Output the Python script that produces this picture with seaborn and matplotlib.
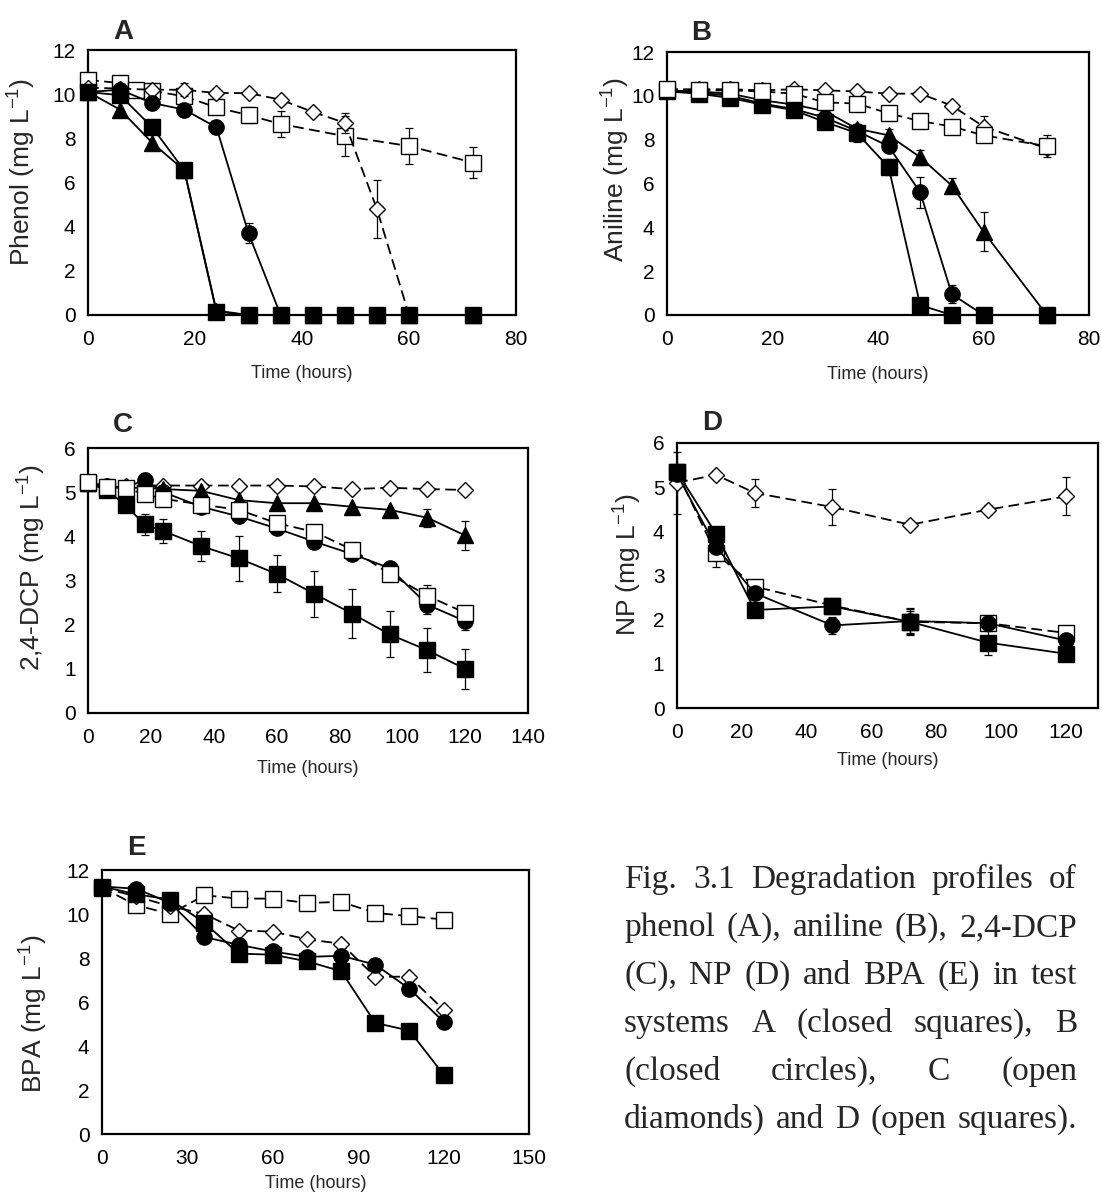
import numpy as np
import matplotlib
matplotlib.use("Agg")
import matplotlib.pyplot as plt
import seaborn as sns

W, H = 1102, 1196

# ---------------- data ----------------
# A: phenol
a_time = [0, 6, 12, 18, 24, 30, 36, 42, 48, 54, 60, 72]
a_closed_sq = [10.1, 9.95, 8.5, 6.55, 0.15, 0, 0, 0, 0, 0, 0, 0]
a_circle = [10.1, 10.2, 9.6, 9.3, 8.5, 3.7, 0, 0, 0, 0, 0, 0]
a_circle_err = [0, 0, 0, 0, 0.2, 0.45, 0, 0, 0, 0, 0, 0]
a_triangle = [10.1, 9.3, 7.8, 6.55, 0.2, 0, 0, 0, 0, 0, 0, 0]
a_diamond = [10.3, 10.25, 10.2, 10.2, 10.05, 10.05, 9.75, 9.2, 8.7, 4.8, 0, 0]
a_diamond_err = [0, 0, 0, 0.3, 0, 0, 0, 0, 0.45, 1.3, 0, 0]
a_open_time = [0, 6, 9, 12, 18, 24, 30, 36, 48, 60, 72]
a_open_sq = [10.65, 10.5, 10.2, 10.15, 9.9, 9.4, 9.05, 8.65, 8.1, 7.65, 6.9]
a_open_sq_err = [0, 0, 0, 0, 0, 0.15, 0.35, 0.6, 0.9, 0.8, 0.7]

# B: aniline
b_time = [0, 6, 12, 18, 24, 30, 36, 42, 48, 54, 60, 72]
b_closed_sq = [10.2, 10.1, 9.9, 9.6, 9.35, 8.8, 8.3, 6.75, 0.45, 0, 0, 0]
b_closed_sq_err = [0, 0, 0, 0, 0.3, 0, 0.4, 0.35, 0, 0, 0, 0]
b_circle = [10.2, 10.15, 10.0, 9.65, 9.4, 9.0, 8.4, 7.7, 5.6, 0.95, 0, 0]
b_circle_err = [0, 0, 0, 0, 0, 0, 0, 0, 0.7, 0.4, 0, 0]
b_triangle = [10.25, 10.2, 10.1, 9.8, 9.6, 9.3, 8.5, 8.2, 7.2, 5.9, 3.8, 0]
b_triangle_err = [0, 0, 0, 0, 0, 0, 0, 0.3, 0.35, 0.35, 0.9, 0]
b_diamond = [10.3, 10.3, 10.3, 10.25, 10.3, 10.25, 10.2, 10.1, 10.1, 9.55, 8.6, 7.6]
b_diamond_err = [0, 0, 0, 0, 0, 0, 0, 0, 0, 0, 0.5, 0.2]
b_open_sq = [10.3, 10.25, 10.25, 10.2, 10.1, 9.7, 9.65, 9.2, 8.85, 8.6, 8.2, 7.7]
b_open_sq_err = [0, 0, 0, 0, 0, 0, 0, 0, 0, 0, 0, 0.5]

# C: 2,4-DCP
c_time = [0, 6, 12, 18, 24, 36, 48, 60, 72, 84, 96, 108, 120]
c_closed_sq = [5.2, 5.05, 4.7, 4.27, 4.12, 3.78, 3.5, 3.15, 2.7, 2.25, 1.78, 1.42, 1.0]
c_closed_sq_err = [0, 0, 0, 0.23, 0.28, 0.33, 0.5, 0.42, 0.52, 0.55, 0.52, 0.5, 0.45]
c_circle = [5.2, 5.15, 5.1, 5.28, 5.0, 4.67, 4.45, 4.18, 3.88, 3.6, 3.28, 2.45, 2.08]
c_circle_err = [0, 0, 0, 0.15, 0, 0, 0, 0, 0, 0, 0, 0.2, 0.2]
c_triangle = [5.2, 5.1, 5.1, 5.1, 5.07, 5.03, 4.82, 4.75, 4.75, 4.67, 4.6, 4.42, 4.02]
c_triangle_err = [0, 0, 0, 0, 0, 0, 0, 0, 0, 0, 0, 0.2, 0.33]
c_diamond = [5.2, 5.15, 5.15, 5.15, 5.15, 5.15, 5.15, 5.15, 5.13, 5.07, 5.1, 5.07, 5.05]
c_open_sq = [5.22, 5.12, 5.1, 4.95, 4.85, 4.72, 4.6, 4.3, 4.1, 3.7, 3.15, 2.65, 2.27]
c_open_sq_err = [0, 0, 0, 0, 0, 0, 0, 0, 0, 0, 0, 0.25, 0]

# D: NP
d_time = [0, 12, 24, 48, 72, 96, 120]
d_closed_sq = [5.35, 3.95, 2.22, 2.3, 1.95, 1.48, 1.23]
d_closed_sq_err = [0, 0, 0, 0, 0.3, 0.27, 0]
d_circle = [5.3, 3.65, 2.6, 1.87, 1.97, 1.92, 1.53]
d_circle_err = [0, 0, 0, 0.2, 0.3, 0.1, 0]
d_diamond = [5.1, 5.28, 4.87, 4.55, 4.15, 4.49, 4.79]
d_diamond_err = [0.7, 0, 0.32, 0.4, 0, 0.1, 0.43]
d_open_sq = [5.35, 3.5, 2.75, 2.32, 1.95, 1.92, 1.7]
d_open_sq_err = [0, 0.3, 0, 0, 0.25, 0.1, 0]

# E: BPA
e_time = [0, 12, 24, 36, 48, 60, 72, 84, 96, 108, 120]
e_closed_sq = [11.25, 10.9, 10.65, 9.6, 8.2, 8.15, 7.85, 7.4, 5.05, 4.7, 2.7]
e_circle = [11.25, 11.15, 10.5, 8.95, 8.6, 8.3, 8.05, 8.1, 7.7, 6.6, 5.1]
e_diamond = [11.2, 10.8, 10.35, 10.0, 9.25, 9.2, 8.85, 8.65, 7.15, 7.15, 5.65]
e_open_sq = [11.2, 10.4, 10.0, 10.85, 10.7, 10.7, 10.5, 10.55, 10.05, 9.9, 9.75]

caption_lines = [
    "Fig. 3.1 Degradation profiles of",
    "phenol (A), aniline (B), 2,4-DCP",
    "(C), NP (D) and BPA (E) in test",
    "systems A (closed squares), B",
    "(closed circles), C (open",
    "diamonds) and D (open squares).",
]

# ---------------- styles ----------------
DASH = (0, (6, 3))
STYLE = {
    "closed_sq": dict(marker="s", markersize=11, markerfacecolor="black", linestyle="-"),
    "circle": dict(marker="o", markersize=11, markerfacecolor="black", linestyle="-"),
    "triangle": dict(marker="^", markersize=11, markerfacecolor="black", linestyle="-"),
    "diamond": dict(marker="D", markersize=8, markerfacecolor="white", linestyle=DASH),
    "open_sq": dict(marker="s", markersize=11, markerfacecolor="white", linestyle=DASH),
}

# panel boxes in reference pixels: left, top, right, bottom
panels = [
    dict(box=(88, 50, 516, 315), letter="A", letter_xy=(123, 32), name="Phenol",
         xlim=(0, 80), xticks=np.arange(0, 81, 20), ylim=(0, 12), yticks=np.arange(0, 13, 2),
         ylab=(-0.12, 0.54), xlab=-0.19,
         series=[("open_sq", a_open_time, a_open_sq, a_open_sq_err),
                 ("diamond", a_time, a_diamond, a_diamond_err),
                 ("triangle", a_time, a_triangle, None),
                 ("circle", a_time, a_circle, a_circle_err),
                 ("closed_sq", a_time, a_closed_sq, None)]),
    dict(box=(667, 52, 1089, 315), letter="B", letter_xy=(701, 33), name="Aniline",
         xlim=(0, 80), xticks=np.arange(0, 81, 20), ylim=(0, 12), yticks=np.arange(0, 13, 2),
         ylab=(-0.085, 0.555), xlab=-0.194,
         series=[("closed_sq", b_time, b_closed_sq, b_closed_sq_err),
                 ("circle", b_time, b_circle, b_circle_err),
                 ("triangle", b_time, b_triangle, b_triangle_err),
                 ("diamond", b_time, b_diamond, b_diamond_err),
                 ("open_sq", b_time, b_open_sq, b_open_sq_err)]),
    dict(box=(88, 448, 528, 713), letter="C", letter_xy=(123, 425), name="2,4-DCP",
         xlim=(0, 140), xticks=np.arange(0, 141, 20), ylim=(0, 6), yticks=np.arange(0, 7, 1),
         ylab=(-0.0925, 0.55), xlab=-0.177,
         series=[("diamond", c_time, c_diamond, None),
                 ("triangle", c_time, c_triangle, c_triangle_err),
                 ("closed_sq", c_time, c_closed_sq, c_closed_sq_err),
                 ("circle", c_time, c_circle, c_circle_err),
                 ("open_sq", c_time, c_open_sq, c_open_sq_err)]),
    dict(box=(677, 443, 1098, 708), letter="D", letter_xy=(712, 423), name="NP",
         xlim=(0, 130), xticks=np.arange(0, 121, 20), ylim=(0, 6), yticks=np.arange(0, 7, 1),
         ylab=(-0.081, 0.54), xlab=-0.166,
         series=[("open_sq", d_time, d_open_sq, d_open_sq_err),
                 ("diamond", d_time, d_diamond, d_diamond_err),
                 ("closed_sq", d_time, d_closed_sq, d_closed_sq_err),
                 ("circle", d_time, d_circle, d_circle_err)]),
    dict(box=(102, 870, 529, 1134), letter="E", letter_xy=(136, 848), name="BPA",
         xlim=(0, 150), xticks=np.arange(0, 151, 30), ylim=(0, 12), yticks=np.arange(0, 13, 2),
         ylab=(-0.125, 0.455), xlab=-0.155,
         series=[("open_sq", e_time, e_open_sq, None),
                 ("diamond", e_time, e_diamond, None),
                 ("circle", e_time, e_circle, None),
                 ("closed_sq", e_time, e_closed_sq, None)]),
]

sns.set_style("white")
plt.rcParams["font.family"] = ["Liberation Sans", "DejaVu Sans"]
plt.rcParams["mathtext.fontset"] = "custom"
plt.rcParams["mathtext.rm"] = "Liberation Sans"

fig = plt.figure(figsize=(W / 100, H / 100), dpi=100)


def add_panel(p):
    l, t, r, b = p["box"]
    ax = fig.add_axes([l / W, 1 - b / H, (r - l) / W, (b - t) / H])
    for z, (key, x, y, err) in enumerate(p["series"]):
        sns.lineplot(x=x, y=y, ax=ax, color="black", linewidth=1.3,
                     markeredgecolor="black", markeredgewidth=1.0,
                     estimator=None, sort=False, zorder=3 + z, **STYLE[key])
        if err is not None:
            x_a, y_a, e_a = np.array(x), np.array(y), np.array(err)
            m = e_a > 0
            ax.errorbar(x_a[m], y_a[m], yerr=e_a[m], fmt="none", ecolor="black",
                        elinewidth=0.9, capsize=3, capthick=0.9, zorder=2.9 + z)
    ax.set_xlim(*p["xlim"])
    ax.set_ylim(*p["ylim"])
    ax.set_xticks(p["xticks"])
    ax.set_yticks(p["yticks"])
    ax.tick_params(direction="in", length=4, width=1, labelsize=15, colors="black")
    ax.tick_params(axis="x", pad=11)
    ax.tick_params(axis="y", pad=9)
    for s in ax.spines.values():
        s.set_linewidth(1.6)
        s.set_color("black")
    ax.set_ylabel(p["name"] + r" (mg L$^{\mathregular{-1}}$)", fontsize=19)
    ax.yaxis.set_label_coords(*p["ylab"])
    ax.set_xlabel("Time (hours)", fontsize=13)
    ax.xaxis.set_label_coords(0.5, p["xlab"])
    for ln in ax.lines:
        ln.set_clip_on(False)
    lx, ly = p["letter_xy"]
    fig.text(lx / W, 1 - ly / H, p["letter"], fontsize=20, fontweight="bold",
             ha="center", va="center")
    return ax


for p in panels:
    add_panel(p)


def justified_caption(lines, x0, x1, base0, step, **kw):
    renderer = fig.canvas.get_renderer()
    for i, line in enumerate(lines):
        yb = 1 - (base0 + i * step) / H
        words = line.split()
        texts = [fig.text(0, yb, w, va="baseline", ha="left", **kw) for w in words]
        widths = [t.get_window_extent(renderer).width for t in texts]
        gap = (x1 - x0 - sum(widths)) / max(len(words) - 1, 1)
        x = x0
        for t, w in zip(texts, widths):
            t.set_x(x / W)
            x += w + gap


justified_caption(caption_lines, 624, 1077, 888, 48,
                  fontsize=24, family=["Liberation Serif", "DejaVu Serif"])

fig.savefig("out.png", dpi=100)
